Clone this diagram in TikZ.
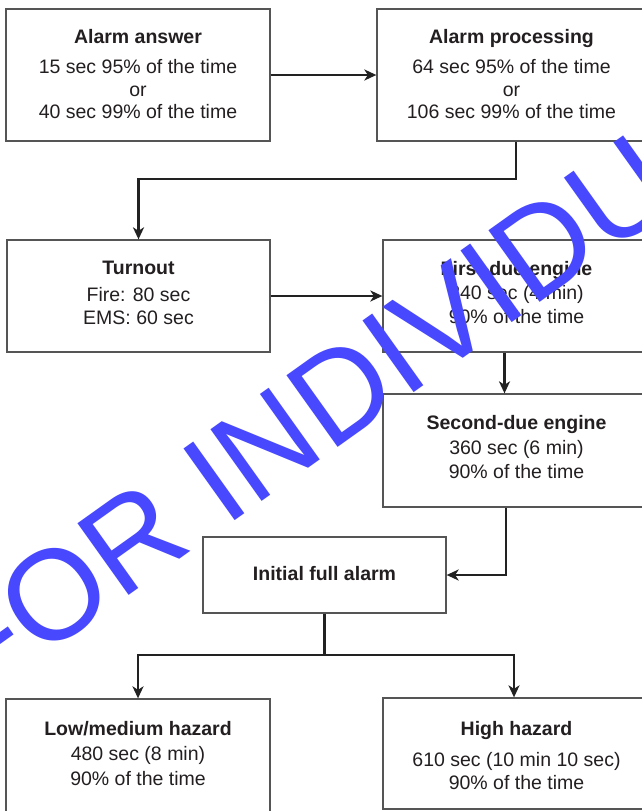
\documentclass[tikz,border=0pt]{standalone}
\usepackage{fontspec}
\setmainfont{Liberation Sans}
\usetikzlibrary{arrows.meta}
\definecolor{wm}{RGB}{72,72,255}
\definecolor{txt}{RGB}{35,31,32}
\definecolor{boxline}{RGB}{85,85,85}
\definecolor{connline}{RGB}{34,34,34}
\begin{document}
\begin{tikzpicture}[x=1pt,y=-1pt,
  box/.style={draw=boxline, line width=1.3pt, rectangle, inner sep=0pt, fill=white},
  label text/.style={align=center, text=txt, inner sep=0pt},
  conn/.style={draw=connline, line width=2.1pt, -{Stealth[length=12pt,width=11pt,inset=3.5pt]}},
  plainconn/.style={draw=connline, line width=2.1pt},
  watermark/.style={text=wm, inner sep=0pt, font=\fontsize{128}{128}\selectfont}
]
\useasboundingbox (0,0) rectangle (642,811);
\fill[white] (0,0) rectangle (642,811);
\clip (0,0) rectangle (642,811);

% boxes
\node[box, minimum width=264pt, minimum height=132pt] (b1) at (138,75) {};
\node[box, minimum width=269pt, minimum height=132pt] (b2) at (511.5,75) {};
\node[box, minimum width=263pt, minimum height=112pt] (turn) at (138.5,296) {};
\node[box, minimum width=267pt, minimum height=112pt] (fd) at (516.5,296) {};
\node[box, minimum width=267pt, minimum height=113pt] (sd) at (516.5,450.5) {};
\node[box, minimum width=243pt, minimum height=76pt] (ifa) at (324.5,575) {};
\node[box, minimum width=264pt, minimum height=116pt] (low) at (138,757) {};
\node[box, minimum width=267pt, minimum height=111pt] (high) at (516.5,753.5) {};

% texts
\node[label text, font=\fontsize{19.5}{22.5}\selectfont] (b1t) at (138,74.5)
  {\textbf{Alarm answer}\\[7.5pt]15 sec 95\% of the time\\or\\40 sec 99\% of the time};
\node[label text, font=\fontsize{19.5}{22.5}\selectfont] (b2t) at (511.5,74.5)
  {\textbf{Alarm processing}\\[7.5pt]64 sec 95\% of the time\\or\\106 sec 99\% of the time};
\node[label text, font=\fontsize{19.5}{23}\selectfont] (turnt) at (138.5,293)
  {\textbf{Turnout}\\[4pt]Fire: 80 sec\\EMS: 60 sec};
\node[label text, font=\fontsize{19.5}{24}\selectfont] (fdt) at (516.5,293)
  {\textbf{First-due engine}\\240 sec (4 min)\\90\% of the time};
\node[label text, font=\fontsize{19.5}{24.5}\selectfont] (sdt) at (516.5,447.5)
  {\textbf{Second-due engine}\\360 sec (6 min)\\90\% of the time};
\node[label text, font=\fontsize{19.5}{24}\selectfont] (ifat) at (324.5,574)
  {\textbf{Initial full alarm}};
\node[label text, font=\fontsize{19.5}{25}\selectfont] (lowt) at (138,754)
  {\textbf{Low/medium hazard}\\480 sec (8 min)\\90\% of the time};
\node[label text, font=\fontsize{19.5}{23.5}\selectfont] (hight) at (516.5,756)
  {\textbf{High hazard}\\[7pt]610 sec (10 min 10 sec)\\90\% of the time};

% connectors
\draw[conn] (b1.east) -- (b2.west);
\draw[conn] ([xshift=4.5pt]b2.south) -- ++(0,37) -| (turn.north);
\draw[conn] (turn.east) -- (fd.west);
\draw[conn] ([xshift=-12pt]fd.south) -- ([xshift=-12pt]sd.north);
\draw[conn] ([xshift=-10.5pt]sd.south) |- (ifa.east);
\draw[plainconn] (ifa.south) -- ++(0,41) coordinate (split);
\draw[conn] (split) -| (low.north);
\draw[conn] (split) -| ([xshift=-2.5pt]high.north);

% watermark
\node[watermark, rotate=35.5, anchor=base west] (wmk) at (-24,705.3) {FOR INDIVIDUAL USE ONLY};
\end{tikzpicture}
\end{document}
